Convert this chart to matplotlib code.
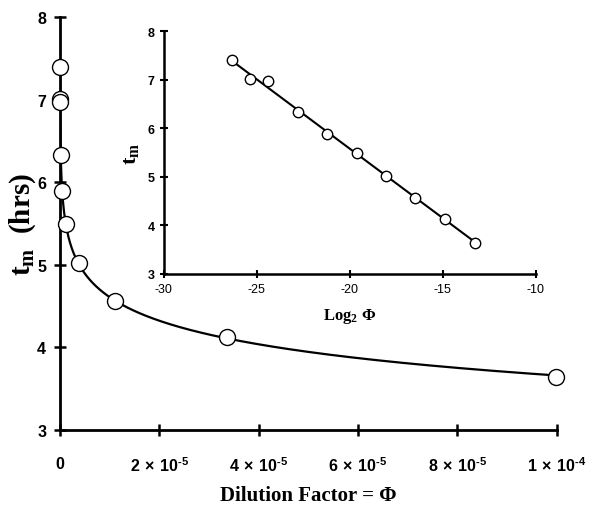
import numpy as np
import matplotlib
matplotlib.use('Agg')
import matplotlib.pyplot as plt

# values (log2 of dilution factor vs t_m in hours)
log2_phi = np.array([-26.36, -25.38, -24.39, -22.78, -21.20, -19.62, -18.03, -16.47, -14.86, -13.29])
tm = np.array([7.40, 7.01, 6.98, 6.33, 5.89, 5.50, 5.02, 4.56, 4.13, 3.64])
phi = 2.0 ** log2_phi

main_xticks = [0, 2e-5, 4e-5, 6e-5, 8e-5, 1e-4]
main_xticklabels = [r'$\mathsf{0}$', r'$\mathsf{2\,\times\,10^{\text{-}5}}$',
                    r'$\mathsf{4\,\times\,10^{\text{-}5}}$', r'$\mathsf{6\,\times\,10^{\text{-}5}}$',
                    r'$\mathsf{8\,\times\,10^{\text{-}5}}$', r'$\mathsf{1\,\times\,10^{\text{-}4}}$']
yticks = [3, 4, 5, 6, 7, 8]
inset_xticks = [-30, -25, -20, -15, -10]

plt.rcParams['font.family'] = ['Liberation Sans', 'DejaVu Sans']
plt.rcParams['axes.unicode_minus'] = False
plt.rcParams['mathtext.fontset'] = 'custom'
plt.rcParams['mathtext.rm'] = 'Liberation Sans:bold'
plt.rcParams['mathtext.bf'] = 'Liberation Serif:bold'
plt.rcParams['mathtext.sf'] = 'Liberation Sans:bold'

# straight-line fit tm = a + b*log2(phi)
b, a = np.polyfit(log2_phi, tm, 1)

fig = plt.figure(figsize=(6, 5.1), dpi=100)
ax = fig.add_axes([0.1, 0.155, 0.828, 0.809])

xs = np.concatenate([np.geomspace(phi.min(), 1e-6, 400), np.linspace(1e-6, 1e-4, 4000)])
ax.plot(xs, a + b * np.log2(xs), color='black', lw=1.6, zorder=2)
ax.plot(phi, tm, 'o', ms=11.5, mfc='white', mec='black', mew=1.0, zorder=3, clip_on=False)

ax.set_xlim(0, 1e-4)
ax.set_ylim(3, 8)
ax.set_xticks(main_xticks)
ax.set_xticklabels(main_xticklabels)
ax.set_yticks(yticks)
for s in ['top', 'right']:
    ax.spines[s].set_visible(False)
for s in ['left', 'bottom']:
    ax.spines[s].set_linewidth(2.0)
ax.tick_params(direction='inout', length=8, width=1.8, labelsize=11.5)
ax.tick_params(axis='x', pad=14)
ax.tick_params(axis='y', pad=6)
for lab in ax.get_yticklabels():
    lab.set_fontweight('bold')
ax.set_xlabel('Dilution Factor = Φ', family='Liberation Serif', fontweight='bold',
              fontsize=15, labelpad=8)
ax.set_ylabel(r'$\mathbf{t_m}$  (hrs)', family='Liberation Serif', fontweight='bold',
              fontsize=21)
ax.yaxis.set_label_coords(-0.044, 0.5)

# inset
ins = fig.add_axes([0.273, 0.461, 0.62, 0.476])
lx = np.linspace(log2_phi.min(), log2_phi.max(), 50)
ins.plot(lx, a + b * lx, color='black', lw=1.5, zorder=2)
ins.plot(log2_phi, tm, 'o', ms=7.5, mfc='white', mec='black', mew=1.0, zorder=3)
ins.set_xlim(-30, -10)
ins.set_ylim(3, 8)
ins.set_xticks(inset_xticks)
ins.set_yticks(yticks)
for s in ['top', 'right']:
    ins.spines[s].set_visible(False)
for s in ['left', 'bottom']:
    ins.spines[s].set_linewidth(1.8)
ins.tick_params(direction='inout', length=6, width=1.5, labelsize=9)
for lab in ins.get_yticklabels():
    lab.set_fontweight('bold')
ins.set_xlabel(r'$\mathbf{Log_2}$ Φ', family='Liberation Serif', fontweight='bold',
               fontsize=12, labelpad=8)
ins.set_ylabel(r'$\mathbf{t_m}$', family='Liberation Serif', fontweight='bold',
               fontsize=16)
ins.yaxis.set_label_coords(-0.062, 0.5)

fig.savefig('out.png', dpi=100)
